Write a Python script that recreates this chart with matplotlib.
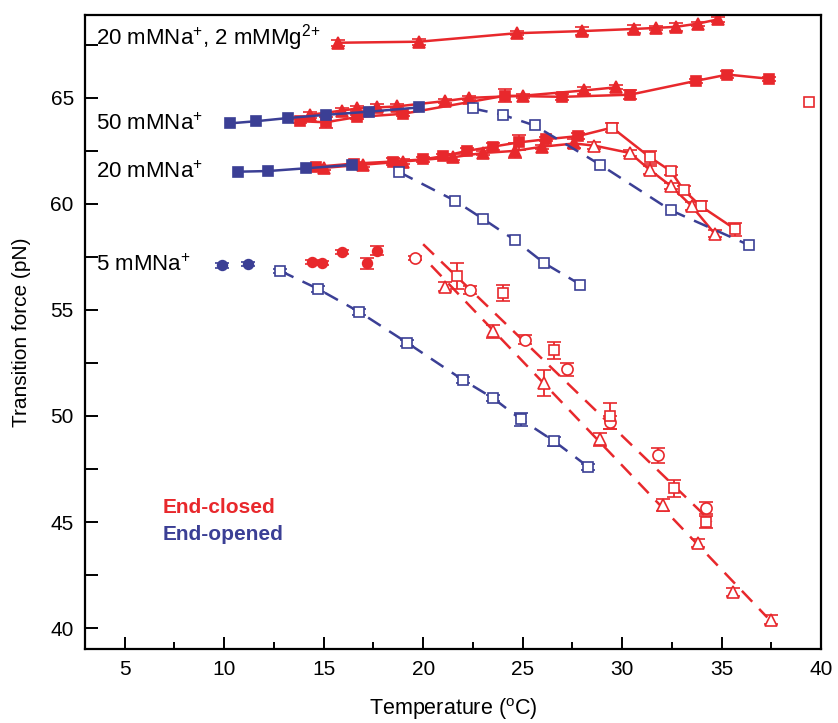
import numpy as np
import matplotlib
matplotlib.use("Agg")
import matplotlib.pyplot as plt
from matplotlib.ticker import MultipleLocator

plt.rcParams['font.family'] = ['Liberation Sans', 'DejaVu Sans']
plt.rcParams['mathtext.fontset'] = 'custom'
plt.rcParams['mathtext.rm'] = 'Liberation Sans'
plt.rcParams['mathtext.it'] = 'Liberation Sans:italic'

RED = '#e8282c'
BLUE = '#3b3f95'

# --- end-closed (red) ---
mg_T = [15.7, 19.8, 24.7, 28.0, 30.6, 31.7, 32.7, 33.8, 34.8]
mg_F = [67.6, 67.65, 68.05, 68.15, 68.25, 68.3, 68.35, 68.5, 68.7]
mg_err = [0.15, 0.15, 0.1, 0.2, 0.2, 0.1, 0.2, 0.1, 0.1]

c50_tri_T = [14.3, 15.9, 16.7, 17.7, 18.7, 21.1, 22.3, 25.0, 28.1, 29.7]
c50_tri_F = [64.2, 64.4, 64.5, 64.55, 64.6, 64.85, 65.0, 65.1, 65.35, 65.5]
c50_tri_err = [0.15, 0.1, 0.1, 0.15, 0.1, 0.1, 0.1, 0.1, 0.15, 0.1]

c50_sq_T = [13.8, 15.1, 16.7, 19.0, 24.1, 27.0, 30.4, 33.7, 35.3, 37.4]
c50_sq_F = [63.9, 63.85, 64.1, 64.25, 65.1, 65.05, 65.15, 65.8, 66.1, 65.9]
c50_sq_err = [0.1, 0.25, 0.1, 0.1, 0.3, 0.15, 0.2, 0.1, 0.15, 0.1]

c50_open_T = [39.4]
c50_open_F = [64.8]

c20_sq_T = [14.6, 16.5, 18.5, 20.0, 21.0, 22.2, 23.5, 24.8, 26.2, 27.8]
c20_sq_F = [61.75, 61.9, 62.0, 62.1, 62.25, 62.5, 62.7, 62.9, 63.05, 63.2]
c20_sq_err = [0.1, 0.1, 0.15, 0.1, 0.1, 0.15, 0.15, 0.35, 0.1, 0.15]

c20_tri_T = [15.0, 17.0, 19.0, 21.5, 23.0, 24.6, 26.0, 27.6]
c20_tri_F = [61.7, 61.85, 62.0, 62.2, 62.4, 62.5, 62.7, 62.85]
c20_tri_err = [0.1, 0.1, 0.1, 0.15, 0.1, 0.35, 0.1, 0.2]

# descending 20 mM end-closed (first entry = peak of the rising branch)
c20_dsq_T = [27.8, 29.5, 31.4, 32.45, 33.1, 33.95, 35.7]
c20_dsq_F = [63.2, 63.6, 62.2, 61.55, 60.65, 59.9, 58.8]
c20_dsq_err = [0.0, 0.2, 0.3, 0.2, 0.2, 0.25, 0.3]

c20_dtri_T = [27.6, 28.6, 30.4, 31.4, 32.45, 33.5, 34.65]
c20_dtri_F = [62.85, 62.75, 62.4, 61.6, 60.85, 59.9, 58.6]
c20_dtri_err = [0.0, 0.15, 0.15, 0.2, 0.15, 0.2, 0.15]

c5_fill_T = [14.4, 14.9, 15.9, 17.2, 17.7]
c5_fill_F = [57.25, 57.2, 57.75, 57.2, 57.8]
c5_fill_err = [0.1, 0.1, 0.1, 0.25, 0.2]

c5_tri_T = [21.1, 23.5, 26.1, 28.9, 32.05, 33.8, 35.6, 37.5]
c5_tri_F = [56.1, 54.0, 51.55, 48.9, 45.8, 44.0, 41.7, 40.4]
c5_tri_err = [0.2, 0.3, 0.6, 0.3, 0.3, 0.2, 0.2, 0.2]

c5_circ_T = [19.6, 22.35, 25.1, 27.25, 29.4, 31.8, 34.2]
c5_circ_F = [57.45, 55.95, 53.6, 52.2, 49.7, 48.15, 45.66]
c5_circ_err = [0.1, 0.2, 0.2, 0.3, 0.3, 0.35, 0.3]

c5_sq_T = [21.7, 24.0, 26.6, 29.4, 32.6, 34.2]
c5_sq_F = [56.6, 55.8, 53.1, 50.0, 46.6, 45.0]
c5_sq_err = [0.6, 0.4, 0.4, 0.6, 0.4, 0.3]

# dashed fits for 5 mM end-closed
c5_fit_hi_T = [20.0, 34.5]
c5_fit_hi_F = [58.1, 45.0]
c5_fit_lo_T = [20.4, 37.3]
c5_fit_lo_F = [57.1, 40.5]

# --- end-opened (blue) ---
o50_fill_T = [10.3, 11.6, 13.2, 15.1, 17.3, 19.8]
o50_fill_F = [63.8, 63.9, 64.05, 64.2, 64.35, 64.55]
o50_open_T = [22.5, 24.0, 25.6, 28.9, 32.45, 36.4]
o50_open_F = [64.5, 64.2, 63.7, 61.85, 59.7, 58.05]

o20_fill_T = [10.7, 12.2, 14.1, 16.4]
o20_fill_F = [61.52, 61.55, 61.68, 61.84]
o20_open_T = [18.8, 21.6, 23.0, 24.6, 26.1, 27.9]
o20_open_F = [61.5, 60.15, 59.3, 58.3, 57.2, 56.2]

o5_fill_T = [9.9, 11.2]
o5_fill_F = [57.1, 57.15]
o5_open_T = [12.8, 14.7, 16.8, 19.2, 22.0, 23.5, 24.9, 26.6, 28.3]
o5_open_F = [56.85, 56.0, 54.9, 53.45, 51.7, 50.85, 49.85, 48.8, 47.6]
o5_open_err = [0.1, 0.15, 0.15, 0.15, 0.15, 0.15, 0.3, 0.2, 0.15]

labels = ['20 mMNa$^{+}$, 2 mMMg$^{2{+}}$', '50 mMNa$^{+}$', '20 mMNa$^{+}$', '5 mMNa$^{+}$']
label_F = [67.83, 63.77, 61.5, 57.1]


def series(ax, T, F, err, color, marker, filled, ls, ms=7):
    fc = color if filled else 'white'
    kw = {}
    if ls == '--':
        kw['dashes'] = (6, 4)
    ax.errorbar(T, F, yerr=err, color=color, marker=marker, ms=ms,
                mfc=fc, mec=color, mew=1.2, ls=ls, lw=1.8,
                capsize=5, capthick=1.5, elinewidth=1.3, **kw)


fig = plt.figure(figsize=(8.38, 7.23), dpi=100)
ax = fig.add_axes([0.1014, 0.102, 0.8783, 0.877])

# end-closed
series(ax, mg_T, mg_F, mg_err, RED, '^', True, '-', 8)
series(ax, c50_tri_T, c50_tri_F, c50_tri_err, RED, '^', True, '-', 8)
series(ax, c50_sq_T, c50_sq_F, c50_sq_err, RED, 's', True, '-', 7)
series(ax, c50_open_T, c50_open_F, None, RED, 's', False, 'none', 7)
series(ax, c20_sq_T, c20_sq_F, c20_sq_err, RED, 's', True, '-', 7)
series(ax, c20_tri_T, c20_tri_F, c20_tri_err, RED, '^', True, '-', 8)
ax.plot(c20_dsq_T, c20_dsq_F, color=RED, lw=1.8)
ax.plot(c20_dtri_T, c20_dtri_F, color=RED, lw=1.8)
series(ax, c20_dsq_T[1:], c20_dsq_F[1:], c20_dsq_err[1:], RED, 's', False, 'none', 7)
series(ax, c20_dtri_T[1:], c20_dtri_F[1:], c20_dtri_err[1:], RED, '^', False, 'none', 8)
series(ax, c5_fill_T, c5_fill_F, c5_fill_err, RED, 'o', True, 'none', 7)
ax.plot(c5_fit_hi_T, c5_fit_hi_F, color=RED, lw=1.8, dashes=(6, 4))
ax.plot(c5_fit_lo_T, c5_fit_lo_F, color=RED, lw=1.8, dashes=(6, 4))
series(ax, c5_tri_T, c5_tri_F, c5_tri_err, RED, '^', False, 'none', 8)
series(ax, c5_circ_T, c5_circ_F, c5_circ_err, RED, 'o', False, 'none', 8)
series(ax, c5_sq_T, c5_sq_F, c5_sq_err, RED, 's', False, 'none', 7)

# end-opened
series(ax, o50_fill_T, o50_fill_F, None, BLUE, 's', True, '-', 7)
series(ax, o50_open_T, o50_open_F, None, BLUE, 's', False, '--', 7)
series(ax, o20_fill_T, o20_fill_F, None, BLUE, 's', True, '-', 7)
series(ax, o20_open_T, o20_open_F, None, BLUE, 's', False, '--', 7)
series(ax, o5_fill_T, o5_fill_F, [0.1, 0.1], BLUE, 'o', True, 'none', 7)
series(ax, o5_open_T, o5_open_F, o5_open_err, BLUE, 's', False, '--', 7)

for txt, f in zip(labels, label_F):
    ax.text(3.55, f, txt, fontsize=16, va='center', ha='left')

ax.text(6.9, 45.7, 'End-closed', color=RED, fontsize=15, fontweight='bold', va='center')
ax.text(6.9, 44.4, 'End-opened', color=BLUE, fontsize=15, fontweight='bold', va='center')

ax.set_xlim(3, 40)
ax.set_ylim(39, 68.9)
ax.xaxis.set_major_locator(MultipleLocator(5))
ax.xaxis.set_minor_locator(MultipleLocator(2.5))
ax.yaxis.set_major_locator(MultipleLocator(5))
ax.yaxis.set_minor_locator(MultipleLocator(2.5))
ax.tick_params(which='both', direction='in', top=False, right=False,
               labelsize=15, width=1.4)
ax.tick_params(which='major', length=9, pad=8)
ax.tick_params(axis='x', which='minor', length=5)
ax.tick_params(axis='y', which='minor', length=9)
for sp in ax.spines.values():
    sp.set_linewidth(1.6)

ax.set_xlabel('Temperature ($^{\\rm o}$C)', fontsize=15.5, labelpad=12)
ax.set_ylabel('Transition force (pN)', fontsize=15, labelpad=14)

fig.savefig('out.png', dpi=100)
